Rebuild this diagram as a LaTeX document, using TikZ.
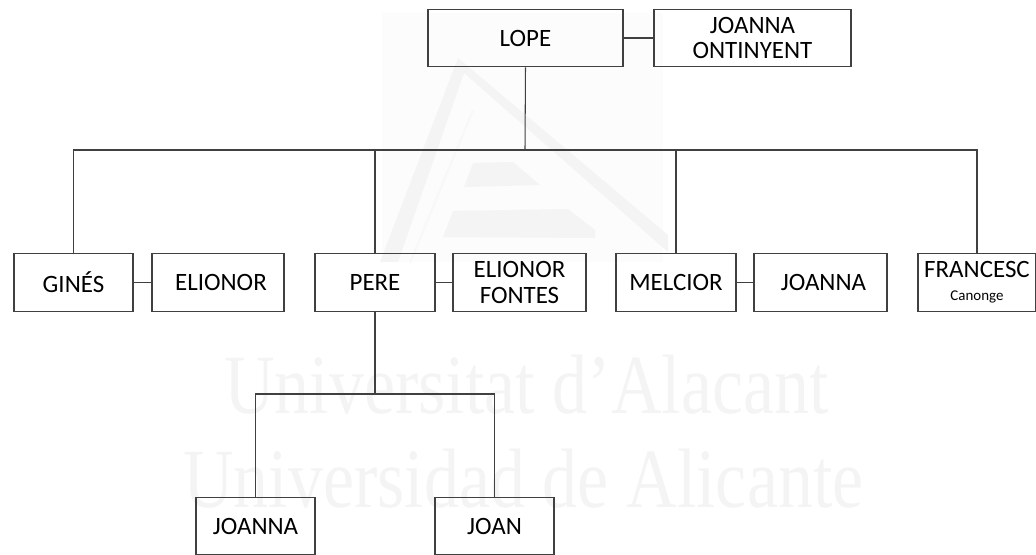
\documentclass[tikz,border=0pt]{standalone}
\usepackage{fontspec}
\setmainfont{Carlito}
\newfontfamily\markfont[FakeStretch=0.83]{Liberation Serif}
\definecolor{linecol}{gray}{0.25}
\definecolor{markcol}{gray}{0.955}
\definecolor{markback}{gray}{0.99}
\tikzset{
    person/.style={draw=linecol, line width=0.6pt, minimum height=1.15cm, inner sep=0pt, align=center, font=\fontsize{14.2}{14.5}\selectfont},
    watermark/.style={text=markcol, font=\markfont\fontsize{48}{48}\selectfont, inner sep=0pt, anchor=base west},
    link/.style={draw=linecol, line width=0.6pt}
}
\begin{document}
\begin{tikzpicture}[x=0.02cm, y=-0.02cm]

    \useasboundingbox (0, 0) rectangle (1036, 555);

    % Marca d'aigua
    \fill[markback] (382, 13) rectangle (663, 262);
    \fill[markcol] (458, 58) -- (668, 235) -- (668, 252) -- (464, 73) -- (398, 262) -- (380, 262) -- cycle;
    \draw[markcol!60!white, line width=1.2pt] (473, 110) -- (410, 263);
    \fill[markcol] (473, 163) -- (513, 162) -- (540, 185) -- (464, 187) -- cycle;
    \fill[markcol] (453, 211) -- (568, 209) -- (595, 230) -- (595, 238) -- (443, 237) -- cycle;
    \node[watermark] (nom1) at (224, 413) {Universitat d’Alacant};
    \node[watermark] (nom2) at (183, 507) {Universidad de Alicante};

    % Primera generacio
    \node[person, minimum width=3.9cm] (lope) at (525.5, 38) {LOPE};
    \node[person, minimum width=3.94cm] (ontinyent) at (752.5, 38) {JOANNA\\ONTINYENT};

    % Fills
    \node[person, minimum width=2.38cm] (gines) at (73.5, 282.5) {GINÉS};
    \node[person, minimum width=2.64cm] (elionor) at (218, 282.5) {\hspace*{3.4pt}ELIONOR};
    \node[person, minimum width=2.4cm] (pere) at (375, 282.5) {PERE};
    \node[person, minimum width=2.66cm] (fontes) at (519.5, 282.5) {ELIONOR\\FONTES};
    \node[person, minimum width=2.4cm] (melcior) at (676, 282.5) {MELCIOR};
    \node[person, minimum width=2.66cm] (joanna) at (820.5, 282.5) {\hspace*{3.4pt}JOANNA};
    \node[person, minimum width=2.36cm] (francesc) at (977, 282.5) {FRANCESC\\[-1.5pt]{\fontsize{8.5}{9}\selectfont Canonge}};

    % Nets
    \node[person, minimum width=2.38cm] (neta) at (255.5, 526) {JOANNA};
    \node[person, minimum width=2.38cm] (joan) at (494.5, 526) {JOAN};

    % Matrimonis
    \draw[link] (lope) -- (ontinyent);
    \draw[link] (gines) -- (elionor);
    \draw[link] (pere) -- (fontes);
    \draw[link] (melcior) -- (joanna);

    % Descendencia de Lope
    \coordinate (barra) at (525, 150);
    \draw[link] (lope.south) -- (barra);
    \draw[link] (gines.north) |- (barra) -| (francesc.north);
    \draw[link] (pere.north) -- (pere.north |- barra);
    \draw[link] (melcior.north) -- (melcior.north |- barra);

    % Descendencia de Pere
    \coordinate (barra2) at (375, 394);
    \draw[link] (pere.south) -- (barra2);
    \draw[link] (neta.north) |- (barra2) -| (joan.north);

\end{tikzpicture}
\end{document}
